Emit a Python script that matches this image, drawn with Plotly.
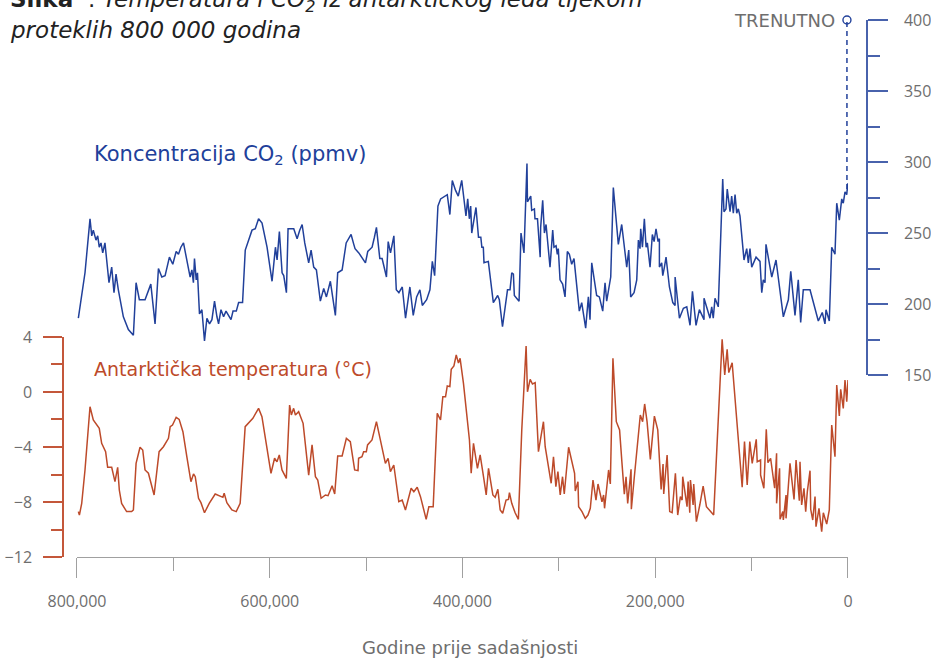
import plotly.graph_objects as go

# ---- data (thousands of years before present) ----
co2_ka = [798.6, 791.7, 786.5, 784.7, 783.1, 780.3, 778.5, 776.9, 775.1, 773.3, 771.0, 769.2, 766.8, 764.0,
          761.6, 759.5, 757.1, 751.9, 746.7, 741.5, 738.7, 735.3, 729.4, 723.4, 719.0, 715.5, 712.0, 708.6,
          704.1, 700.6, 697.1, 694.7, 692.2, 689.5, 686.0, 682.6, 680.8, 679.2, 678.1, 676.3, 675.0, 672.9,
          670.4, 667.7, 665.2, 662.5, 660.0, 657.3, 654.8, 653.1, 650.6, 647.9, 645.4, 642.7, 640.2, 638.1,
          634.7, 632.3, 628.2, 625.4, 618.4, 615.0, 611.6, 608.0, 602.8, 597.6, 594.1, 592.4, 590.0, 587.2,
          585.5, 582.7, 581.0, 575.1, 571.6, 568.9, 566.4, 563.7, 559.6, 557.1, 554.4, 551.6, 547.5, 544.0,
          541.2, 537.1, 531.9, 529.5, 524.9, 520.7, 515.6, 512.8, 511.5, 507.6, 500.7, 498.3, 493.8, 491.4,
          489.3, 485.8, 483.4, 478.9, 477.1, 474.7, 471.2, 468.7, 466.0, 462.5, 459.1, 454.6, 451.1, 447.6,
          444.2, 441.7, 437.2, 433.8, 431.3, 428.9, 425.5, 422.7, 415.8, 413.1, 410.6, 407.2, 404.4, 400.8,
          396.4, 394.6, 392.9, 391.5, 390.4, 386.0, 383.4, 381.0, 379.9, 378.4, 377.7, 373.2, 368.0, 363.5,
          361.8, 358.5, 353.3, 350.7, 348.9, 347.2, 346.2, 341.3, 339.3, 336.2, 333.1, 332.6, 329.2, 328.2,
          325.4, 324.8, 322.2, 319.4, 318.9, 316.8, 315.0, 313.3, 309.2, 306.4, 305.1, 302.9, 301.6, 300.6,
          298.8, 296.1, 293.6, 291.2, 289.1, 286.7, 284.3, 278.8, 276.3, 272.2, 269.4, 267.7, 265.9, 260.8,
          258.0, 254.5, 252.1, 250.4, 246.2, 243.5, 238.3, 234.8, 229.6, 227.5, 225.5, 222.0, 219.2, 217.5,
          215.8, 215.1, 213.3, 211.3, 209.5, 208.2, 205.4, 203.0, 201.2, 199.2, 197.1, 195.7, 195.7, 193.3,
          192.2, 190.5, 188.8, 185.3, 181.8, 179.4, 179.4, 174.9, 170.8, 167.3, 163.9, 161.4, 157.7, 154.2,
          151.8, 149.4, 149.4, 146.6, 143.2, 141.4, 139.8, 138.0, 134.6, 130.0, 128.7, 126.6, 125.3, 122.4,
          120.7, 119.0, 117.2, 115.5, 113.8, 112.1, 107.9, 105.1, 103.4, 101.7, 99.9, 95.4, 91.3, 89.5,
          87.9, 86.1, 85.1, 79.1, 74.7, 67.1, 61.9, 59.4, 55.0, 51.6, 49.1, 46.4, 39.4, 30.8,
          26.7, 23.9, 22.8, 19.4, 16.9, 13.5, 11.7, 9.0, 6.5, 4.9, 3.1, 1.3, 0.3, 0.0]
co2_ppmv = [190, 222, 260, 248, 252, 245, 248, 240, 243, 236, 243, 229, 215, 226,
            208, 221, 210, 191, 182, 178, 215, 203, 203, 214, 186, 225, 219, 220,
            233, 228, 237, 235, 240, 243, 231, 219, 224, 215, 232, 217, 222, 193,
            196, 174, 190, 186, 189, 202, 191, 186, 196, 191, 195, 192, 189, 195,
            195, 201, 201, 238, 252, 253, 260, 257, 240, 216, 240, 231, 251, 222,
            220, 208, 253, 253, 246, 252, 256, 243, 229, 238, 226, 224, 202, 211,
            205, 216, 192, 222, 224, 243, 249, 242, 239, 236, 229, 237, 240, 247,
            254, 232, 232, 219, 244, 236, 248, 210, 208, 212, 190, 212, 192, 205,
            210, 199, 203, 210, 230, 220, 269, 274, 277, 263, 287, 280, 276, 287,
            262, 274, 260, 269, 250, 268, 247, 247, 240, 240, 229, 230, 201, 206,
            203, 184, 210, 210, 222, 221, 206, 202, 250, 236, 299, 272, 276, 266,
            267, 260, 260, 233, 254, 273, 250, 256, 226, 252, 240, 241, 235, 239,
            217, 214, 205, 237, 235, 228, 232, 195, 201, 183, 205, 189, 229, 206,
            205, 195, 215, 202, 219, 282, 242, 256, 226, 238, 205, 208, 217, 245,
            239, 253, 240, 260, 240, 243, 226, 249, 244, 253, 244, 246, 226, 229,
            220, 226, 233, 212, 201, 199, 219, 190, 197, 198, 185, 209, 185, 196,
            193, 189, 204, 198, 190, 198, 190, 204, 198, 288, 265, 267, 281, 265,
            276, 264, 277, 264, 267, 262, 231, 239, 229, 239, 226, 233, 230, 208,
            217, 215, 242, 219, 231, 191, 203, 223, 192, 217, 187, 210, 210, 188,
            194, 186, 196, 188, 240, 235, 271, 259, 274, 271, 279, 277, 285, 280]

temp_ka = [798.6, 797.5, 795.1, 791.7, 786.5, 783.1, 776.9, 774.4, 770.3, 768.2, 764.0, 760.6, 757.8, 756.1,
           753.7, 748.5, 743.3, 741.5, 738.7, 734.6, 731.8, 729.4, 725.9, 720.0, 714.8, 710.3, 705.1, 703.3,
           700.9, 697.1, 694.0, 690.1, 686.0, 681.8, 679.1, 677.3, 673.9, 671.4, 667.7, 662.8, 656.6, 651.4,
           648.6, 647.3, 644.5, 639.3, 634.8, 630.7, 625.5, 617.5, 611.6, 608.1, 602.9, 598.7, 595.0, 592.5,
           590.1, 587.3, 582.8, 579.4, 577.6, 575.2, 573.4, 570.0, 565.4, 559.6, 556.1, 552.6, 550.2, 546.7,
           542.2, 539.5, 535.3, 532.6, 529.5, 524.9, 520.5, 516.4, 511.9, 508.4, 507.8, 504.3, 502.6, 499.8,
           498.5, 493.9, 489.3, 480.0, 477.2, 474.8, 471.3, 466.1, 462.6, 459.2, 453.3, 450.5, 447.0, 443.6,
           437.7, 434.9, 430.4, 426.2, 422.8, 420.4, 417.6, 415.8, 413.1, 411.7, 408.9, 406.5, 404.2, 402.5,
           399.0, 395.5, 392.8, 391.0, 388.6, 384.5, 381.7, 378.2, 375.4, 373.0, 368.5, 366.1, 363.3, 360.9,
           358.3, 354.8, 352.3, 351.3, 348.9, 345.4, 342.0, 338.5, 334.0, 332.6, 329.8, 327.4, 324.6, 321.2,
           319.4, 316.0, 314.2, 310.8, 308.0, 305.6, 303.1, 301.0, 298.6, 296.2, 294.4, 289.9, 285.4, 283.7,
           283.0, 280.2, 279.5, 276.0, 272.6, 269.8, 267.4, 264.6, 261.5, 259.4, 255.3, 253.6, 252.6, 250.1,
           248.4, 246.6, 243.9, 240.4, 237.0, 234.5, 232.1, 230.3, 228.6, 225.1, 224.8, 221.7, 218.3, 215.5,
           213.1, 211.0, 208.5, 205.1, 200.9, 197.4, 193.9, 191.9, 191.2, 187.7, 185.0, 182.5, 179.1, 176.7,
           173.9, 172.1, 171.5, 167.0, 165.9, 164.2, 163.5, 160.7, 160.1, 157.3, 153.8, 150.3, 146.9, 139.4,
           130.6, 127.9, 125.4, 123.7, 120.2, 116.8, 113.3, 109.8, 107.4, 104.6, 101.9, 99.4, 95.2, 94.2,
           90.7, 90.7, 87.3, 84.8, 83.1, 80.3, 76.1, 74.1, 74.1, 71.0, 70.5, 67.7, 67.1, 64.3,
           64.3, 60.2, 56.0, 53.9, 50.5, 49.8, 48.1, 45.7, 43.9, 42.2, 39.4, 38.7, 36.6, 34.2,
           33.2, 30.1, 27.3, 25.6, 22.1, 19.4, 16.9, 13.5, 11.7, 9.0, 7.6, 4.9, 3.1, 1.3, 0.0]
temp_c = [-8.7, -8.95, -8.1, -5.67, -1.07, -2.04, -2.64, -3.73, -4.34, -5.48, -5.48, -6.52, -5.48, -7.13,
          -8.1, -8.7, -8.7, -8.58, -5.19, -4.02, -4.22, -5.67, -5.91, -7.49, -4.34, -3.98, -3.37, -2.52,
          -2.4, -1.84, -1.99, -2.89, -4.71, -6.52, -5.96, -6.16, -7.73, -8.05, -8.78, -8.1, -7.42, -7.61,
          -7.66, -7.37, -8.05, -8.58, -8.7, -8.1, -2.52, -1.91, -1.19, -1.8, -4.22, -5.91, -4.82, -5.07,
          -4.58, -5.67, -6.28, -0.95, -1.67, -1.19, -1.67, -1.43, -2.28, -6.04, -3.85, -6.16, -6.4, -7.73,
          -7.49, -7.54, -6.82, -7.42, -4.65, -4.65, -3.37, -3.61, -5.67, -5.72, -4.82, -4.71, -4.34, -4.34,
          -3.85, -3.49, -2.16, -5.19, -4.82, -5.79, -5.31, -7.98, -7.86, -8.58, -7.0, -7.25, -6.93, -7.61,
          -9.26, -8.34, -8.34, -1.55, -2.04, -0.34, -0.34, 0.44, 0.39, 1.65, 1.9, 2.7, 2.1, 2.45,
          0.63, -1.55, -3.49, -5.91, -3.73, -5.55, -4.58, -6.16, -7.49, -5.55, -7.49, -7.66, -7.08, -8.58,
          -8.82, -7.86, -7.81, -7.32, -8.1, -8.78, -9.26, -2.76, 3.35, 0.02, 0.92, 0.58, 0.68, -4.34,
          -3.49, -2.16, -3.98, -5.43, -6.64, -4.71, -6.89, -5.79, -7.49, -6.16, -7.42, -4.02, -5.55, -5.91,
          -7.2, -6.52, -8.34, -8.7, -9.19, -8.95, -8.46, -6.4, -7.86, -6.69, -7.98, -7.49, -8.46, -6.76,
          -5.67, -6.69, 2.45, -2.16, -2.76, -5.19, -7.44, -6.16, -8.1, -5.62, -8.53, -6.16, -3.73, -1.67,
          -2.16, -0.87, -2.16, -4.9, -1.75, -2.76, -7.08, -5.24, -7.42, -4.58, -8.7, -8.78, -5.91, -8.95,
          -7.61, -7.86, -6.16, -8.34, -6.52, -8.78, -6.4, -8.22, -6.69, -9.43, -8.22, -6.84, -8.34, -8.95,
          3.83, 1.24, 3.1, 1.41, 2.13, -0.82, -3.73, -6.93, -3.61, -6.76, -3.61, -5.19, -3.44, -5.07,
          -4.95, -6.04, -7.0, -2.71, -5.14, -4.82, -7.0, -4.46, -8.1, -5.55, -9.26, -8.7, -9.31, -7.49,
          -9.19, -5.19, -7.81, -4.95, -7.91, -5.07, -8.22, -7.0, -8.7, -7.25, -5.72, -8.53, -9.31, -7.61,
          -9.8, -8.46, -10.16, -8.78, -9.6, -8.58, -2.4, -4.71, 0.51, -1.75, 0.2, -1.19, 0.87, -0.7, 0.87]

now_ka = [-1.5, -1.5]
now_ppmv = [281, 400]

x_ticks_years = [800000, 600000, 400000, 200000, 0]
x_tick_labels = ["800,000", "600,000", "400,000", "200,000", "0"]
x_minor_years = [700000, 500000, 300000, 100000]

CO2_COLOR = "#21409a"
CO2_AXIS = "#4862ac"
T_COLOR = "#bd4a2a"
T_AXIS = "#c4573a"
GREY = "#6e6e6e"
FONT = "DejaVu Sans"
TICK_FONT = "Open Sans"

fig = go.Figure()
fig.add_trace(go.Scatter(x=[k * 1000 for k in co2_ka], y=co2_ppmv, xaxis="x", yaxis="y2",
                         mode="lines", line=dict(color=CO2_COLOR, width=1.5), hoverinfo="skip"))
fig.add_trace(go.Scatter(x=[k * 1000 for k in temp_ka], y=temp_c, xaxis="x", yaxis="y",
                         mode="lines", line=dict(color=T_COLOR, width=1.5), hoverinfo="skip"))
fig.add_trace(go.Scatter(x=[k * 1000 for k in now_ka], y=now_ppmv, xaxis="x2", yaxis="y3",
                         mode="lines", line=dict(color=CO2_COLOR, width=1.5, dash="5px,4px"),
                         hoverinfo="skip"))
fig.add_trace(go.Scatter(x=[now_ka[-1] * 1000], y=[now_ppmv[-1]], xaxis="x2", yaxis="y3",
                         mode="markers", cliponaxis=False,
                         marker=dict(symbol="circle-open", size=8, color=CO2_COLOR, line=dict(width=1.4)),
                         hoverinfo="skip"))

fig.update_layout(
    width=931, height=659,
    margin=dict(l=63, r=64, t=20, b=102),
    paper_bgcolor="white", plot_bgcolor="rgba(0,0,0,0)",
    showlegend=False,
    font=dict(family=FONT, color=GREY),
    xaxis=dict(domain=[0.01741, 0.97637], range=[800000, 0], anchor="y", automargin=False,
               showline=True, linecolor="#a0a0a0", linewidth=1.2,
               ticks="outside", ticklen=20, tickwidth=1.2, tickcolor="#a0a0a0",
               tickmode="array", tickvals=x_ticks_years, ticktext=x_tick_labels,
               tickfont=dict(size=16, color=GREY, family=TICK_FONT), ticklabelstandoff=10,
               minor=dict(tickmode="array", tickvals=x_minor_years, ticks="outside",
                          ticklen=13, tickwidth=1.2, tickcolor="#a0a0a0", showgrid=False),
               showgrid=False, zeroline=False),
    xaxis2=dict(domain=[0.01741, 0.97637], range=[800000, 0], overlaying="x", anchor="y3",
                visible=False, automargin=False),
    yaxis=dict(domain=[0, 0.4097], range=[-12, 4], anchor="free", position=0, automargin=False,
               showline=True, linecolor=T_AXIS, linewidth=1.5,
               ticks="outside", ticklen=19, tickwidth=1.5, tickcolor=T_AXIS,
               tick0=0, dtick=4, tickfont=dict(size=16, color=GREY, family=TICK_FONT),
               ticklabelstandoff=8,
               minor=dict(tick0=0, dtick=2, ticks="outside", ticklen=11, tickwidth=1.5,
                          tickcolor=T_AXIS, showgrid=False),
               showgrid=False, zeroline=False),
    yaxis2=dict(domain=[0.3389, 1], range=[150, 400], anchor="free", position=1, side="right",
                automargin=False,
                showline=True, linecolor=CO2_AXIS, linewidth=1.5,
                ticks="outside", ticklen=20, tickwidth=1.5, tickcolor=CO2_AXIS,
                tick0=150, dtick=50, tickfont=dict(size=16, color=GREY, family=TICK_FONT),
                ticklabelstandoff=13,
                minor=dict(tick0=150, dtick=25, ticks="outside", ticklen=12, tickwidth=1.5,
                           tickcolor=CO2_AXIS, showgrid=False),
                showgrid=False, zeroline=False),
    yaxis3=dict(domain=[0.3389, 1], range=[150, 400], anchor="x2", visible=False, automargin=False),
)
# overlay x axis reaches slightly past "0" so the dashed line sits just right of it
fig.layout.xaxis2.range = [800000, -2600]
fig.layout.xaxis2.domain = [0.01741, 0.97637 + 2600 / 800000 * (0.97637 - 0.01741)]

def px_x(p):
    return (p - 63) / 804.0

def px_y(p):
    return (557 - p) / 537.0

fig.add_annotation(x=px_x(8), y=px_y(1), xref="paper", yref="paper", xanchor="left", yanchor="middle",
                   align="left", showarrow=False,
                   text="<b>Slika</b>  : <i>Temperatura i CO<sub>2</sub> iz antarktičkog leda tijekom</i>",
                   font=dict(size=23, color="#222222", family=FONT))
fig.add_annotation(x=px_x(8), y=px_y(30), xref="paper", yref="paper", xanchor="left", yanchor="middle",
                   align="left", showarrow=False,
                   text="<i>proteklih 800 000 godina</i>",
                   font=dict(size=23, color="#222222", family=FONT))
fig.add_annotation(x=px_x(92), y=px_y(155), xref="paper", yref="paper", xanchor="left", yanchor="middle",
                   showarrow=False, text="Koncentracija CO<sub>2</sub> (ppmv)",
                   font=dict(size=21, color=CO2_COLOR, family=FONT))
fig.add_annotation(x=px_x(92), y=px_y(369), xref="paper", yref="paper", xanchor="left", yanchor="middle",
                   showarrow=False, text="Antarktička temperatura (°C)",
                   font=dict(size=19, color=T_COLOR, family=FONT))
fig.add_annotation(x=px_x(837), y=px_y(20), xref="paper", yref="paper", xanchor="right", yanchor="middle",
                   showarrow=False, text="TRENUTNO",
                   font=dict(size=18, color=GREY, family=FONT))
fig.add_annotation(x=px_x(470), y=px_y(648), xref="paper", yref="paper", xanchor="center", yanchor="middle",
                   showarrow=False, text="Godine prije sadašnjosti",
                   font=dict(size=18, color=GREY, family=FONT))

fig.write_html("out.html")
